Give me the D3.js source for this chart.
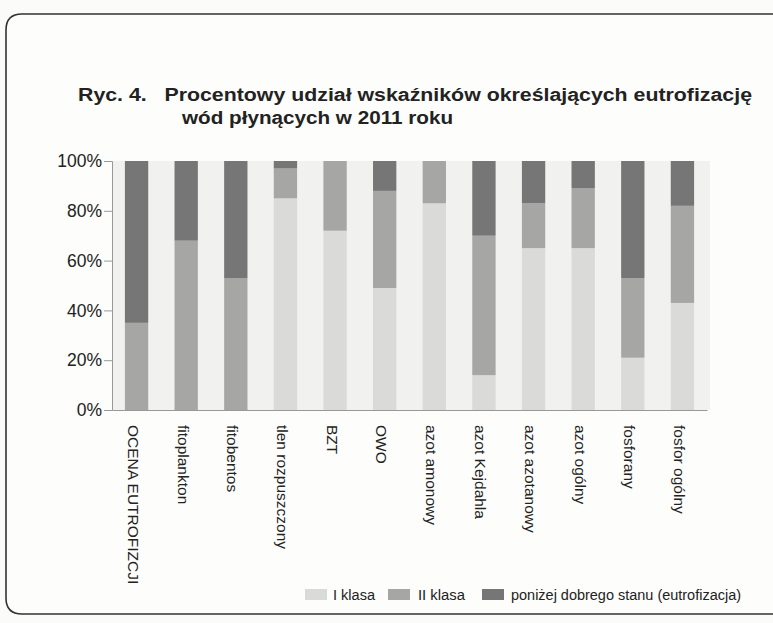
<!DOCTYPE html>
<html><head><meta charset="utf-8">
<script src="https://cdn.jsdelivr.net/npm/d3@7"></script>
<style>
html,body{margin:0;padding:0;background:#fbfbf9;overflow:hidden;}
svg{display:block;font-family:"Liberation Sans",Arial,sans-serif;}
</style></head>
<body><svg id="c" width="773" height="623"></svg>
<script>
const categories = ["OCENA EUTROFIZCJI","fitoplankton","fitobentos","tlen rozpuszczony","BZT","OWO","azot amonowy","azot Kejdahla","azot azotanowy","azot ogólny","fosforany","fosfor ogólny"];
const klasaI  = [0, 0, 0, 85, 72, 49, 83, 14, 65, 65, 21, 43];
const klasaII = [35, 68, 53, 12, 28, 39, 17, 56, 18, 24, 32, 39];
const ponizej = [65, 32, 47, 3, 0, 12, 0, 30, 17, 11, 47, 18];
const seriesNames = ["I klasa","II klasa","poniżej dobrego stanu (eutrofizacja)"];
const yTicks = [0, 20, 40, 60, 80, 100];
const titleLines = ["Ryc. 4.   Procentowy udział wskaźników określających eutrofizację", "wód płynących w 2011 roku"];

const colors = ["#dadad8", "#a6a6a4", "#767676"];
const svg = d3.select("#c");

// frame (open to the right, as in the scanned figure)
const fp = d3.path();
fp.moveTo(800, 14); fp.lineTo(22, 14); fp.quadraticCurveTo(6, 14, 6, 30);
fp.lineTo(6, 598); fp.quadraticCurveTo(6, 614, 22, 614); fp.lineTo(800, 614);
svg.append("rect").attr("x",6).attr("y",14).attr("width",800).attr("height",600).attr("rx",16).attr("fill","#fdfdfb");
svg.append("path").attr("d",fp.toString()).attr("fill","none").attr("stroke","#333").attr("stroke-width",1.6);

// title
svg.append("text").attr("x",78).attr("y",101).attr("font-size",18).attr("font-weight","bold")
  .attr("fill","#222").attr("xml:space","preserve")
  .attr("textLength",674).attr("lengthAdjust","spacingAndGlyphs").text(titleLines[0]);
svg.append("text").attr("x",182).attr("y",124).attr("font-size",18).attr("font-weight","bold")
  .attr("fill","#222").attr("textLength",271).attr("lengthAdjust","spacingAndGlyphs").text(titleLines[1]);

const m = {left:112, right:707, top:161, bottom:410};
const x = d3.scaleBand().domain(categories).range([m.left, m.right]).paddingInner(0.53).paddingOuter(0.26);
const y = d3.scaleLinear().domain([0,100]).range([m.bottom, m.top]);

svg.append("rect").attr("x",m.left).attr("y",m.top).attr("width",m.right-m.left+3).attr("height",m.bottom-m.top)
  .attr("fill","#f1f1ef");

const table = categories.map((c,i)=>({cat:c, I:klasaI[i], II:klasaII[i], P:ponizej[i]}));
const stack = d3.stack().keys(["I","II","P"])(table);

svg.append("g").selectAll("g").data(stack).join("g").attr("fill",(d,i)=>colors[i])
  .selectAll("rect").data(d=>d).join("rect")
  .attr("x",d=>x(d.data.cat)).attr("width",x.bandwidth())
  .attr("y",d=>y(d[1])).attr("height",d=>Math.max(0,y(d[0])-y(d[1])));

// y axis
const ya = d3.axisLeft(y).tickValues(yTicks).tickFormat(d=>d+"%").tickSize(8).tickPadding(2);
const gy = svg.append("g").attr("transform",`translate(${m.left},0)`).call(ya);
gy.select(".domain").attr("stroke","#999");
gy.selectAll(".tick line").attr("stroke","#999");
gy.selectAll(".tick text").attr("font-size",17.5).attr("fill","#222").attr("font-family","Liberation Sans, Arial, sans-serif");

// x axis
const xa = d3.axisBottom(x).tickSize(0).tickPadding(0);
const gx = svg.append("g").attr("transform",`translate(0,${m.bottom})`).call(xa);
gx.select(".domain").attr("stroke","#999");
gx.selectAll(".tick text").attr("font-size",15.5).attr("fill","#222")
  .attr("font-family","Liberation Sans, Arial, sans-serif")
  .attr("text-anchor","start").attr("dy","0.35em")
  .attr("transform","translate(-3,15) rotate(90)").attr("x",0).attr("y",0);

// legend
const lg = svg.append("g");
const legTL = [42, 47, 230];
seriesNames.forEach((n,i)=>{
  lg.append("rect").attr("x",[305,388,482][i]).attr("y",589).attr("width",22).attr("height",11).attr("fill",colors[i]);
  lg.append("text").attr("x",[333,418,511][i]).attr("y",600).attr("font-size",15.5).attr("fill","#222")
    .attr("textLength",legTL[i]).attr("lengthAdjust","spacingAndGlyphs").text(n);
});
</script></body></html>
